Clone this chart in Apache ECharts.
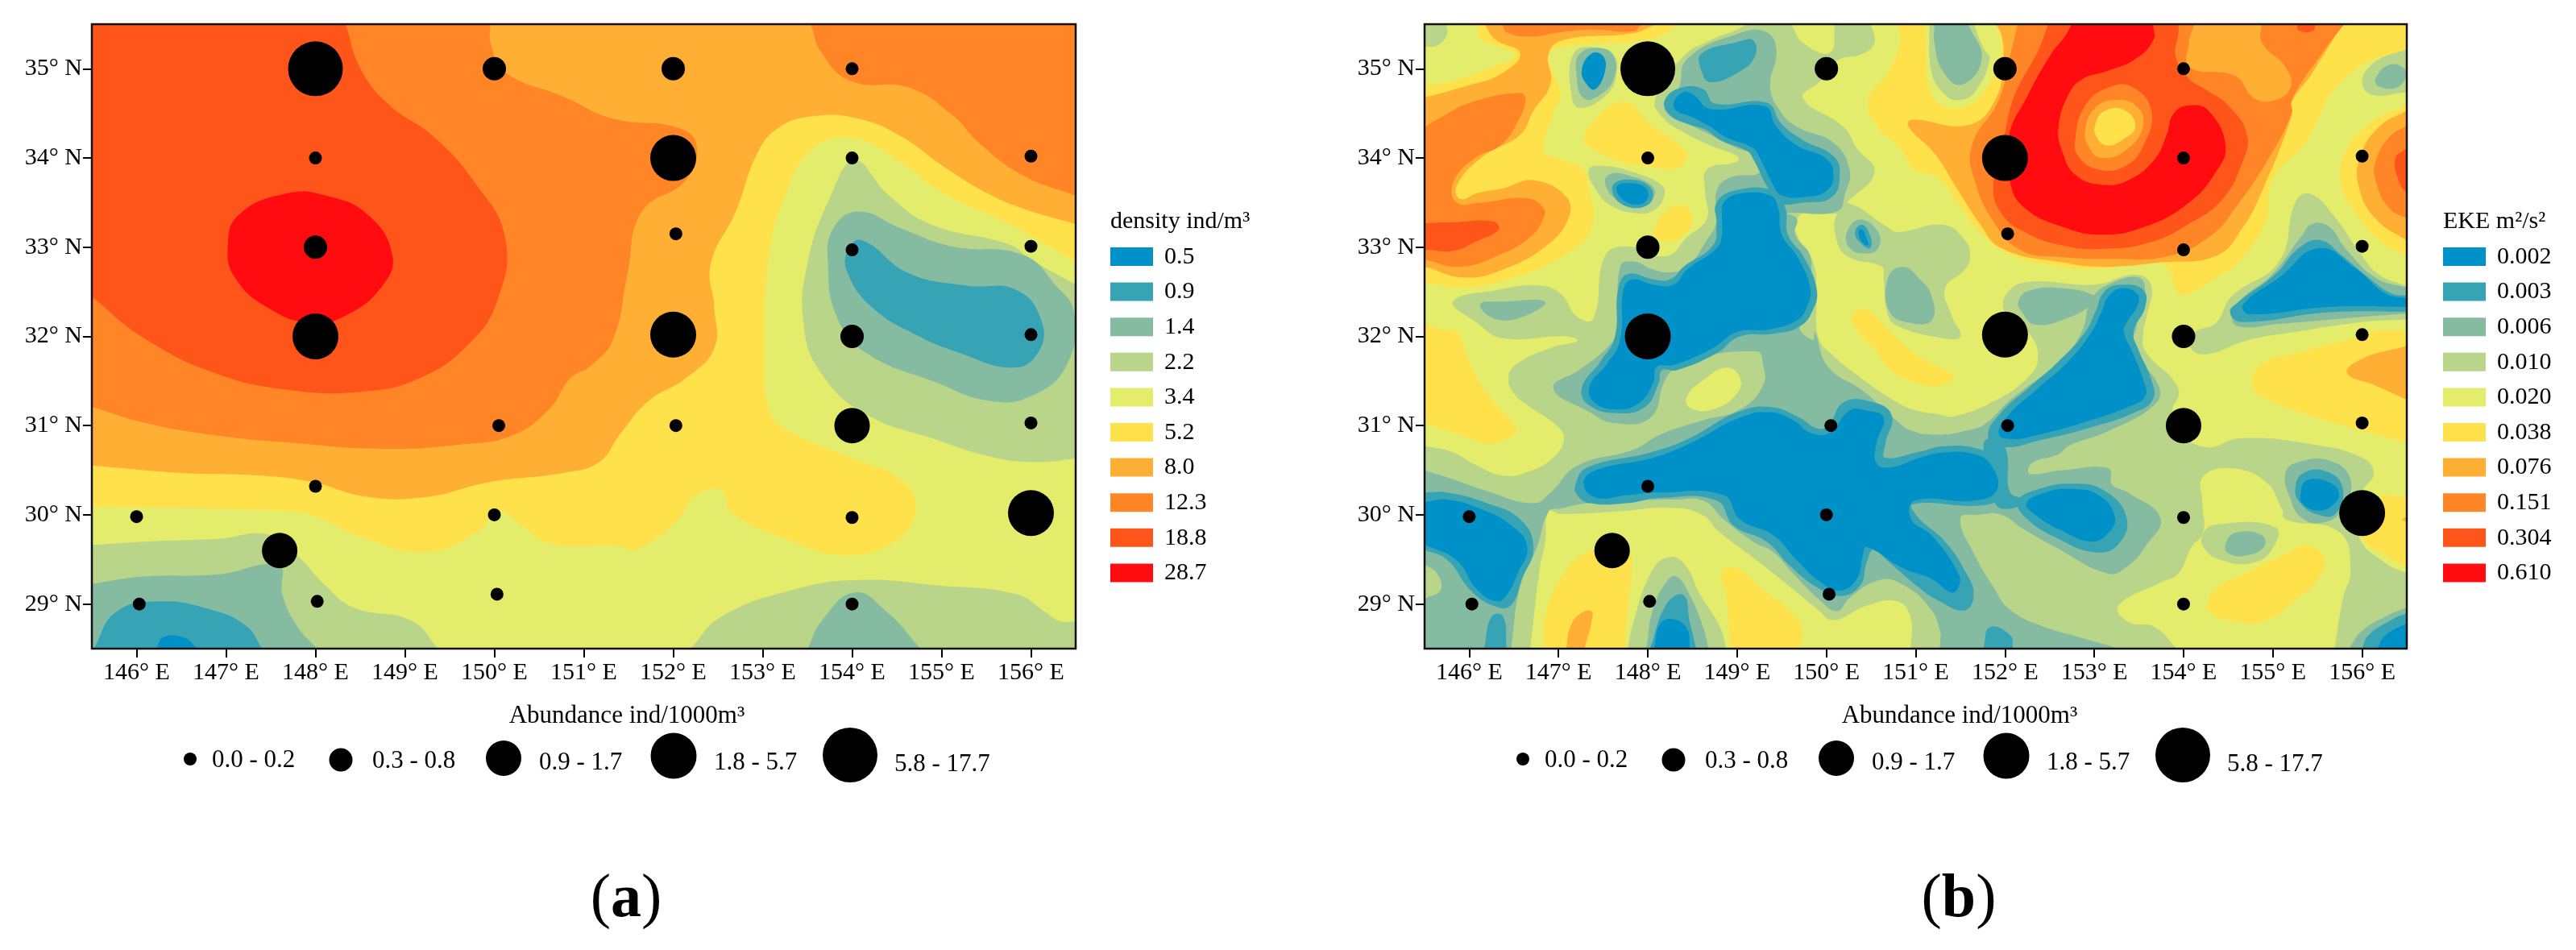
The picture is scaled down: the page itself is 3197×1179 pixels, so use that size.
<!DOCTYPE html>
<html><head><meta charset="utf-8">
<style>html,body{margin:0;padding:0;background:#fff}#c{width:3197px;height:1179px}</style>
<script src="https://cdn.jsdelivr.net/npm/echarts@6/dist/echarts.min.js"></script>
</head><body><div id="c"></div>
<script>
const lonTicks=[146,147,148,149,150,151,152,153,154,155,156];
const latTicks=[29,30,31,32,33,34,35];
const levelColors=['#0191C9','#37A4B6','#85BCA1','#B9D58A','#E3EC6B','#FFE24B','#FFB034','#FF8526','#FF551B','#FF0B10'];
const densityLabels=['0.5','0.9','1.4','2.2','3.4','5.2','8.0','12.3','18.8','28.7'];
const ekeLabels=['0.002','0.003','0.006','0.010','0.020','0.038','0.076','0.151','0.304','0.610'];
const abundanceLabels=['0.0 - 0.2','0.3 - 0.8','0.9 - 1.7','1.8 - 5.7','5.8 - 17.7'];
const abundanceSizes=[16,29,44,57,68];
// station: lon, lat, abundance class
const stations=[[148,35,4],[150,35,1],[152,35,1],[154,35,0],[148,34,0],[152,34,3],[154,34,0],[156,34.02,0],
[148,33,1],[152.03,33.15,0],[154,32.97,0],[156,33.01,0],[148,32,3],[152,32.02,3],[154,32,1],[156,32.02,0],
[150.05,31,0],[152.03,31,0],[154,31,2],[156,31.03,0],[148,30.32,0],[146,29.98,0],[150,30,0],[154,29.97,0],[156,30.02,3],
[147.6,29.6,2],[146.03,29,0],[148.02,29.03,0],[150.03,29.11,0],[154,29,0]];

// filled contour bands: [band, [lon,lat,lon,lat,...]]
const densityContours=[
[4,[145.3,28.3,156.7,28.3,156.7,35.7,145.3,35.7]],
[5,[145.3,35.7,156.7,35.7,156.7,32.71,156.24,32.99,155.76,33.26,155.03,33.6,154.55,33.95,154.03,34.22,153.58,34.12,153.26,33.6,153.06,32.81,153.02,31.82,153.06,31.23,153.26,30.96,153.99,30.64,154.55,30.39,154.71,30.05,154.47,29.7,153.91,29.55,153.34,29.7,152.66,30.02,152.54,30.27,152.26,30.22,152.01,29.9,151.57,29.6,151.41,29.65,150.61,29.68,150.28,29.9,150.04,30.02,149.8,29.8,149.24,29.58,148.51,29.75,147.95,30,147.47,30.05,145.3,30.1]],
[6,[145.3,30.57,146.5,30.47,147.38,30.44,147.95,30.37,148.59,30.2,149.24,30.2,149.96,30.37,150.77,30.47,151.17,30.59,151.41,30.91,151.73,31.28,152.14,31.53,152.46,31.87,152.46,32.32,152.42,32.81,152.7,33.4,152.94,34.05,153.18,34.34,153.58,34.47,154.07,34.44,154.55,34.24,155.03,33.9,155.52,33.6,155.92,33.43,156.7,33.2,156.7,35.7,145.3,35.7]],
[7,[145.3,31.27,146.1,31.03,146.9,30.89,147.71,30.81,148.75,30.74,149.64,30.79,150.2,30.89,150.61,31.18,150.85,31.53,151.09,31.68,151.33,31.97,151.49,32.71,151.65,33.4,152.14,33.75,152.26,34.15,152.05,34.34,151.33,34.44,150.77,34.69,150.12,34.96,149.96,35.28,149.95,35.7,145.3,35.7]],
[7,[153.46,35.7,153.66,35.18,153.99,34.86,154.63,34.79,155.11,34.49,155.44,34.15,155.92,33.8,156.7,33.5,156.7,35.7]],
[8,[145.3,32.6,146.1,31.97,146.9,31.58,147.71,31.4,148.51,31.38,149.16,31.53,149.72,31.92,150.04,32.42,150.12,33.11,149.8,33.7,149.32,34.24,148.83,34.59,148.51,34.99,148.27,35.7,145.3,35.7]],
[9,[147.02,33.01,147.14,33.36,147.67,33.6,148.11,33.58,148.59,33.36,148.86,32.91,148.75,32.57,148.35,32.24,147.95,32.15,147.47,32.32,147.1,32.66]],
[3,[154.03,33.97,154.39,33.6,154.87,33.26,155.76,33.03,156,32.86,156.7,32.47,156.7,30.65,156.08,30.59,155.6,30.64,154.95,30.84,154.15,31.13,153.66,31.58,153.46,32.12,153.5,32.81,153.75,33.55]],
[2,[154.07,33.4,154.55,33.21,155.11,33.01,155.92,32.91,156.28,32.57,156.48,32.27,156.4,31.68,156,31.33,155.52,31.28,154.95,31.48,154.15,31.82,153.83,32.22,153.73,32.81,153.79,33.21]],
[1,[154.11,33.08,154.63,32.71,155.28,32.57,155.84,32.52,156.12,32.17,156.08,31.82,155.8,31.65,155.19,31.82,154.71,32.02,154.23,32.32,153.95,32.71,153.95,32.96]],
[3,[145.3,29.65,146.1,29.7,146.9,29.73,147.47,29.78,147.79,29.55,148.11,29.21,148.43,28.96,149.08,28.81,149.56,28.3,145.3,28.3]],
[2,[145.3,29.2,146.1,29.31,146.9,29.33,147.59,29.43,147.63,29.11,147.79,28.76,148.19,28.3,145.3,28.3]],
[1,[145.4,28.3,145.77,28.91,146.26,29.03,146.82,28.94,147.22,28.76,147.55,28.3]],
[0,[146.1,28.3,146.3,28.63,146.54,28.62,146.9,28.3]],
[3,[152,28.3,152.54,28.86,153.34,29.16,154.07,29.27,154.95,29.21,155.84,29.11,156.16,28.91,156.32,28.81,156.7,28.8,156.7,28.3]],
[2,[153.4,28.3,153.66,28.81,154.03,29.13,154.39,28.91,154.95,28.3]]
];

// filled contour bands, painted in this order
const ekeContours=[
[4,[145.3,28.3,156.7,28.3,156.7,35.7,145.3,35.7]],
[3,[145.3,35.7,145.73,35.7,145.75,35.38,145.64,35.26,145.3,35.23]],
[5,[146.01,35.7,148.7,35.7,148.06,35.34,147.05,35.25,146.89,35.15,146.93,34.98,147.02,34.71,146.94,34.5,146.84,34.08,147.02,33.99,147.28,33.87,147.34,33.63,147.39,33.32,147.28,33.08,146.94,32.84,146.5,32.66,145.94,32.55,145.3,32.63,145.3,34.76,145.82,34.86,146.2,35,146.51,35.15,146.14,35.33]],
[6,[146.03,35.7,148.6,35.7,147.84,35.4,147.05,35.32,146.89,35.17,146.91,34.83,146.72,34.53,146.57,34.26,146.16,34.02,145.86,33.69,145.9,33.54,146.1,33.61,146.38,33.66,146.72,33.75,147.09,33.56,147.11,33.32,146.87,33.02,146.38,32.75,145.94,32.66,145.3,32.84,145.3,34.62,145.94,34.8,146.35,34.94,146.57,35.17,146.29,35.33]],
[5,[146.27,33.84,146.38,33.9,146.53,33.88,146.46,33.79,146.31,33.78]],
[7,[146.25,35.7,146.42,35.41,146.68,35.36,147.02,35.41,147.39,35.44,147.84,35.42,148.14,35.7]],
[7,[145.3,34.23,145.71,34.47,146.01,34.62,146.57,34.73,146.63,34.65,146.53,34.38,146.35,34.14,146.05,33.99,145.82,33.72,145.86,33.5,146.12,33.5,146.65,33.55,146.83,33.44,146.83,33.32,146.68,33.11,146.31,32.9,145.9,32.78,145.3,32.9]],
[8,[145.3,33.26,145.82,33.28,146.27,33.29,146.33,33.2,146.09,33.07,145.82,32.96,145.3,32.98]],
[5,[147.28,34.23,147.39,34.41,147.65,34.62,147.84,34.59,147.99,34.41,148.36,34.14,148.44,34.02,148.32,33.88,148.06,33.9,147.69,33.96,147.32,34.14]],
[5,[148.06,33.14,148.18,33.38,148.36,33.47,148.47,33.41,148.49,33.26,148.32,33.08,148.14,33.08]],
[5,[145.3,32.2,145.68,32.08,145.86,32.05,146.01,31.69,146.2,31.36,146.51,31,146.51,30.91,146.23,30.8,145.94,30.88,145.3,31.09]],
// north-east warm core
[5,[150.77,35.7,150.83,35.29,150.68,34.95,150.47,34.65,150.57,34.35,150.83,34.11,150.98,33.87,151.25,33.78,151.51,33.44,151.7,33.2,152.04,32.93,152.64,32.78,153.08,32.76,153.76,32.81,153.94,32.48,154.06,32.48,154.36,32.66,154.62,32.84,154.92,33.29,154.99,33.75,155.36,34.17,155.51,34.44,155.66,34.74,156.07,35.08,156.7,35.26,156.7,35.7]],
[4,[151.1,35.7,151.85,35.7,151.96,35.29,151.93,35.05,151.78,34.77,151.59,34.59,151.29,34.59,151.14,34.83,151.12,35.2]],
[3,[151.14,35.7,151.57,35.7,151.76,35.23,151.83,35.11,151.66,34.74,151.48,34.65,151.33,34.71,151.18,34.95]],
[2,[151.21,35.7,151.51,35.7,151.74,35.11,151.51,34.82,151.3,34.98,151.21,35.29]],
[6,[151.8,35.7,151.96,35.38,151.98,35.11,151.89,34.65,151.59,34.37,150.95,34.43,150.92,34.35,151.21,34.05,151.48,33.63,151.7,33.29,151.96,32.99,152.64,32.83,153.12,32.78,153.76,32.83,154.36,32.9,154.65,33.2,154.88,33.63,155.21,34.47,155.21,34.62,155.44,34.95,155.9,35.7]],
[7,[152.19,35.7,152.07,35.2,151.93,34.65,151.63,34.14,151.66,33.75,151.89,33.26,152.19,32.96,152.64,32.89,153.16,32.87,153.83,32.9,154.32,33.14,154.58,33.44,154.95,33.99,155.21,34.5,155.21,34.65,155.55,35.17,155.95,35.7]],
[6,[154.17,35.7,154.06,35.29,154.07,35.02,154.58,34.92,154.79,34.67,155.03,34.65,155.2,34.8,155.14,35.02,154.88,35.29,154.86,35.7]],
[8,[155.21,35.7,155.29,35.43,155.44,35.42,155.59,35.7]],
[8,[152.56,35.7,152.37,35.2,152.11,34.71,152,34.29,151.87,33.69,151.96,33.38,152.22,33.17,152.64,33.02,153.05,32.98,153.61,33.05,154.06,33.26,154.43,33.53,154.65,33.93,154.71,34.26,154.5,34.59,154.24,34.77,154.06,34.89,153.91,35.14,153.94,35.38,153.96,35.7]],
[9,[152.86,35.7,153.66,35.7,153.66,35.32,153.46,35.11,153.16,34.98,152.86,34.88,152.71,34.71,152.6,34.35,152.64,34.08,152.79,33.81,153.08,33.7,153.38,33.75,153.68,33.99,153.81,34.26,153.89,34.5,154.07,34.59,154.28,34.53,154.47,34.14,154.36,33.84,154.06,33.5,153.57,33.23,153.08,33.14,152.64,33.23,152.22,33.44,152.06,33.72,152.04,34.23,152.26,34.71,152.52,35.17,152.67,35.36]],
[7,[152.79,34.23,152.9,34.59,153.16,34.79,153.42,34.8,153.64,34.53,153.55,34.14,153.35,33.91,153.05,33.87,152.82,34.02]],
[6,[152.9,34.32,153.01,34.56,153.23,34.65,153.46,34.59,153.55,34.38,153.38,34.11,153.08,34,152.93,34.14]],
[5,[153.01,34.37,153.12,34.53,153.35,34.53,153.46,34.35,153.31,34.2,153.14,34.14,153.03,34.23]],
[3,[156,34.86,156.15,35.08,156.7,35.3,156.7,34.75,156.11,34.71]],
[2,[156.15,34.89,156.32,35.05,156.49,34.97,156.41,34.8,156.19,34.8]],
[5,[156.7,34.72,156.04,34.35,155.81,34.05,155.76,33.75,155.89,33.44,156.22,33.05,156.7,32.8]],
[6,[156.7,34.65,156.19,34.35,155.98,34.02,155.96,33.69,156.15,33.32,156.7,32.93]],
[7,[156.7,34.5,156.3,34.23,156.15,33.96,156.15,33.75,156.3,33.44,156.7,33.2]],
[8,[156.7,34.3,156.37,33.99,156.43,33.69,156.7,33.4]],
[5,[154.77,31.45,154.88,31.69,155.25,31.81,155.93,31.99,156.07,32.05,156.7,32.08,156.7,30.76,156,30.94,155.4,31.12,154.99,31.27]],
[6,[155.83,31.59,156,31.75,156.7,31.95,156.7,31.2,156.15,31.45]],
// main low-EKE network
[3,[148.08,34.65,148.4,35.14,148.7,35.32,149,35.44,149.48,35.7,149.74,35.29,150.04,35.18,150.13,35.7,150.45,35.7,150.54,35.3,150.41,35.17,150.12,35.09,149.93,34.86,149.74,34.67,150.19,34.35,150.34,34.11,150.54,33.84,150.23,33.5,150.12,33.38,149.85,33.41,149.67,33.32,149.67,33.14,149.85,32.84,149.89,32.54,149.91,31.99,150.08,31.78,150.3,31.6,150.68,31.33,150.97,31.18,151.3,31.12,151.4,31.1,151.81,31.24,152.26,31.54,152.37,31.78,152.26,32.05,152,32.27,152.02,32.48,152.26,32.61,153.01,32.58,153.46,32.69,153.64,32.57,153.59,32.24,153.55,32.05,153.57,31.84,153.94,31.42,153.87,31.15,153.91,30.97,154.24,30.76,154.65,30.86,155.44,30.79,156,30.64,156.13,30.46,156,30.25,155.96,29.77,156.26,29.46,156.7,29.25,156.7,28.3,145.3,28.3,145.3,30.82,145.82,30.7,146.09,30.55,146.38,30.44,146.68,30.49,146.94,30.64,147.06,30.85,146.98,31,146.68,31.21,146.5,31.36,146.44,31.54,146.53,31.69,146.91,31.87,147.21,31.95,147.09,32,146.38,31.98,146.09,32.15,145.82,32.39,146.31,32.52,146.79,32.57,147.02,32.48,147.21,32.22,147.39,32.2,147.52,32.9,147.76,33.01,148.21,32.9,148.44,33.11,148.66,33.32,148.64,33.63,148.66,33.87,149,33.96,149,34.02,148.7,34.14,148.4,34.29,148.18,34.44]],
[3,[150.12,33.38,150.23,33.5,150.68,33.23,150.79,33.17,151.31,33.25,151.55,33.08,151.61,32.9,151.55,32.75,151.33,32.54,151.4,32.24,151.5,32,151.31,31.98,150.81,32.11,150.69,32.24,150.64,32.66,150.62,32.78,150.23,32.9,150.1,33.14]],
[3,[154.36,32.15,154.54,32.45,155.07,32.84,155.25,33.5,155.41,33.6,155.66,33.38,156,32.9,156.19,32.69,156.7,32.48,156.7,32.2,156,32.16,155.25,32.05,154.73,31.96,154.24,31.8,154.07,31.89,154.13,32.05]],
[3,[147.34,33.87,147.5,33.91,147.84,33.84,148.16,33.69,148.18,33.56,148.06,33.41,147.88,33.38,147.58,33.47,147.41,33.66]],
[3,[147.15,34.68,147.17,35.17,147.43,35.24,147.62,35.15,147.65,34.95,147.54,34.71,147.24,34.56]],
// holes inside the network
[4,[146.89,30.04,147.02,30.01,147.69,30.04,148.21,30.08,148.59,30.01,148.81,29.8,149.18,29.52,149.56,29.22,149.89,28.95,150.08,28.82,150.45,28.98,150.79,29.03,150.94,28.86,150.95,28.3,146.66,28.3,146.79,29.4,146.85,29.7]],
[5,[146.83,28.3,146.85,28.86,147.06,29.34,147.39,29.61,147.76,29.64,147.82,29.4,147.78,29.04,147.73,28.3]],
[6,[147.05,28.3,147.13,28.74,147.24,28.89,147.37,28.92,147.37,28.8,147.24,28.3]],
[5,[148.83,29.37,149,29.4,149.29,29.16,149.56,28.95,149.72,28.77,149.72,28.3,148.94,28.3,148.88,29.1]],
[3,[147.73,28.3,147.84,28.8,148.03,29.34,148.21,29.52,148.4,29.46,148.59,29.1,148.81,28.74,148.94,28.3]],
[4,[154.22,30.43,154.54,30.52,154.92,30.37,155.1,30.07,155.14,29.95,155.74,29.81,155.87,29.4,155.78,29.04,155.66,28.3,154.13,28.3,153.68,28.74,153.38,28.8,153.27,28.98,153.76,29.25,153.94,29.34,154.09,29.64,154.22,29.8,154.21,30.13]],
[5,[154.26,28.98,154.39,29.19,154.69,29.34,155.18,29.58,155.36,29.66,155.55,29.55,155.55,29.34,155.25,29.04,154.88,28.8,154.5,28.82,154.32,28.89]],
[3,[154.21,29.77,154.36,29.89,155.03,29.86,154.99,29.61,154.77,29.46,154.43,29.49,154.24,29.61]],
[5,[156.19,30.19,156.7,30.2,156.7,29.3,156.26,29.55,156,29.77]],
[6,[156.45,29.95,156.7,30.1,156.7,29.8]],
// band 1.4-equivalent network
[2,[148.19,34.59,148.34,34.77,148.44,35.11,149,35.39,149.33,35.41,149.44,35.2,149.37,34.8,149.48,34.53,149.67,34.35,150.08,34.17,150.26,33.87,150.21,33.6,150.12,33.4,149.56,33.38,149.67,33.32,149.65,33.14,149.82,32.9,149.82,32.54,149.89,32.39,149.7,32.11,149.85,31.96,149.87,32.05,150.02,31.66,150.41,31.39,150.75,31.09,150.96,30.94,151.3,30.9,151.55,30.94,151.78,31.02,152.04,31.27,152.64,31.75,152.86,32.05,152.97,32.42,153.2,32.6,153.5,32.66,153.57,32.51,153.49,32.24,153.46,32.05,153.38,31.9,153.72,31.45,153.68,31.24,153.16,30.94,152.71,30.77,152.6,30.68,152.3,30.58,152.28,30.46,152.64,30.5,153.16,30.52,153.2,30.34,153.38,30.25,153.74,29.96,153.57,29.64,153.38,29.43,153.16,29.34,152.56,29.64,152.19,29.85,151.96,30,151.7,30,151.5,29.96,151.66,29.55,151.89,29.16,152.04,28.95,152.37,28.77,152.86,28.62,153.46,28.45,153.8,28.3,151.27,28.3,151.27,28.71,151.14,28.98,150.85,29.22,150.6,29.27,150.26,29.07,150.12,28.92,149.93,29.04,149.63,29.34,149.41,29.58,149.18,29.7,148.85,29.95,148.62,30.16,148.29,30.17,147.84,30.16,147.32,30.13,147.02,30.07,146.89,30.04,146.76,29.64,146.57,29.19,146.44,28.3,145.3,28.3,145.3,30.56,145.82,30.4,146.16,30.28,146.72,30.13,146.91,30.25,147.21,30.55,147.84,30.73,148.14,30.9,148.62,31.06,149.03,31.18,149.29,31.45,149.29,31.69,149.22,31.83,148.44,31.72,148.21,31.54,148.03,31.09,147.62,31.03,147.35,31.15,146.94,31.42,147.24,31.63,147.54,31.87,147.65,32.05,147.69,32.78,147.84,32.84,148.06,32.75,148.25,32.72,148.44,32.78,148.66,33.08,148.77,33.29,148.77,33.63,148.92,33.78,149.26,33.84,149.22,34.02,149,34.11,148.7,34.26,148.51,34.35,148.25,34.47]],
[4,[148.44,31.33,148.62,31.51,148.88,31.65,149.03,31.54,149,31.36,148.73,31.18,148.47,31.2]],
[3,[145.3,29.6,145.64,29.34,145.68,29.16,145.3,28.95]],
[4,[150.23,32.3,150.39,32.39,150.62,32.24,150.99,31.84,151.48,31.56,151.33,31.42,151.14,31.41,150.69,31.57,150.57,31.81,150.27,32.05]],
[5,[150.3,32.25,150.45,32.3,150.66,32.1,151,31.8,151.42,31.55,151.3,31.46,151.12,31.45,150.72,31.62,150.55,31.85,150.33,32.08]],
[2,[150.69,32.66,150.86,32.78,151.03,32.66,151.18,32.45,151.18,32.18,150.95,32.15,150.71,32.27]],
[2,[146.12,32.36,146.38,32.39,146.85,32.39,146.65,32.24,146.31,32.19]],
[2,[147.52,33.72,147.58,33.82,147.76,33.81,148.06,33.67,148.03,33.5,147.84,33.46,147.65,33.53]],
[2,[147.2,34.95,147.24,35.17,147.47,35.23,147.62,35.14,147.62,34.89,147.47,34.71,147.28,34.67]],
[2,[150.23,33.17,150.38,33.31,150.58,33.17,150.58,32.99,150.45,32.93,150.26,32.99]],
[2,[147.95,28.3,148.06,28.95,148.21,29.25,148.32,29.31,148.47,29.1,148.62,28.74,148.73,28.3]],
[2,[154.47,29.67,154.58,29.8,154.88,29.77,154.9,29.64,154.69,29.54,154.5,29.57]],
[2,[152.15,32.39,152.26,32.51,152.64,32.54,153.01,32.45,152.97,32.36,152.71,32.21,152.34,32.13,152.19,32.27]],
[2,[154.54,32.24,154.65,32.42,154.99,32.69,155.31,33.11,155.44,33.26,155.63,33.23,155.81,32.99,156.15,32.66,156.7,32.48,156.7,32.27,156,32.22,155.07,32.14,154.62,32.11]],
[2,[155.14,30.46,155.25,30.58,155.63,30.61,155.87,30.4,155.78,30.07,155.59,29.92,155.33,29.96,155.18,30.22]],
[2,[155.7,28.3,156,28.7,156.26,28.86,156.7,29.05,156.7,28.3]],
// band 0.9-equivalent
[1,[148.19,34.65,148.38,34.79,148.62,34.77,148.75,34.61,149.33,34.62,149.5,34.38,149.74,34.2,150.08,34.02,150.15,33.81,150.06,33.56,149.74,33.5,149.46,33.5,149.33,33.69,149.18,33.99,149.11,34.08,148.81,34.2,148.66,34.31,148.4,34.4,148.23,34.5]],
[1,[148.6,35.17,149,35.3,149.18,35.32,149.2,35.14,149.03,34.97,148.7,34.85,148.6,34.98]],
[1,[148.77,33.5,148.99,33.64,149.41,33.63,149.54,33.44,149.57,33.14,149.74,32.9,149.89,32.54,149.85,32.3,149.7,32.11,149.41,32.03,149.03,32,148.77,31.81,148.32,31.62,148.16,31.62,148.12,31.47,147.97,31.21,147.65,31.14,147.34,31.23,147.26,31.42,147.47,31.72,147.63,31.99,147.67,32.54,147.78,32.7,148.06,32.64,148.25,32.64,148.4,32.78,148.73,33.02,148.77,33.26]],
[1,[147.19,30.34,147.32,30.53,148.03,30.7,148.47,30.86,149,31.15,149.37,31.21,149.7,31.09,149.89,30.97,150.02,31,150.19,31.26,150.49,31.27,150.73,31.12,150.66,30.79,150.66,30.64,151.05,30.71,151.31,30.77,151.7,30.74,151.89,30.61,151.98,30.25,151.78,30.11,150.97,30.12,151.03,29.97,151.33,29.7,151.57,29.34,151.65,29.1,151.55,28.93,151.25,29.04,151.03,29.19,150.68,29.49,150.53,29.61,150.45,29.46,150.38,29.21,150.15,29.09,149.89,29.19,149.59,29.43,149.33,29.7,148.96,29.88,148.77,30.16,148.14,30.19,147.76,30.13,147.35,30.13,147.21,30.22]],
[1,[151.76,30.79,151.91,30.86,152.02,30.7,152.06,30.25,152.24,30.17,152.07,30.07,151.89,30.13]],
[1,[152.15,30.16,152.38,30.29,152.75,30.35,153.1,30.28,153.36,29.98,153.27,29.67,153.01,29.58,152.6,29.73,152.22,29.98]],
[1,[153.01,32.27,153.12,32.51,153.31,32.58,153.55,32.52,153.57,32.33,153.44,32.05,153.5,31.84,153.63,31.54,153.66,31.3,153.46,31.15,152.93,30.97,152.37,30.83,152,30.76,151.81,30.88,151.96,31.15,152.26,31.42,152.6,31.72,152.9,32.05]],
[1,[154.52,32.27,154.62,32.39,155.03,32.7,155.29,32.99,155.53,33.08,155.78,32.9,156.07,32.66,156.33,32.48,156.7,32.43,156.7,32.28,155.63,32.27,154.65,32.16]],
[1,[155.25,30.28,155.33,30.46,155.59,30.49,155.78,30.31,155.7,30.01,155.48,30.01,155.31,30.13]],
[1,[147.6,33.67,147.76,33.76,148.03,33.67,148.01,33.48,147.73,33.47]],
[1,[150.32,33.17,150.4,33.25,150.49,33.13,150.49,32.99,150.38,33.05]],
[1,[147.95,28.3,148.21,29,148.4,29.1,148.47,28.8,148.59,28.3]],
[1,[151.7,28.3,151.83,28.74,152.06,28.65,152.13,28.3]],
[1,[145.3,30.25,145.75,30.25,146.2,30.13,146.57,29.95,146.72,29.64,146.59,29.28,146.46,28.98,146.27,28.98,146.01,29.16,145.76,29.49,145.3,29.7]],
[1,[146.25,28.86,146.38,28.86,146.44,28.3,146.12,28.3]],
[1,[155.9,28.3,156.07,28.65,156.34,28.83,156.7,28.98,156.7,28.3]],
// lowest band
[0,[148.29,34.62,148.4,34.74,148.51,34.71,148.7,34.55,149.31,34.58,149.44,34.35,149.67,34.14,150,33.99,150.08,33.81,150,33.63,149.74,33.56,149.5,33.58,149.41,33.69,149.26,33.99,149.18,34.11,148.88,34.23,148.7,34.35,148.47,34.47,148.32,34.53]],
[0,[148.85,33.5,149.03,33.6,149.37,33.58,149.46,33.44,149.5,33.14,149.67,32.9,149.82,32.54,149.78,32.33,149.67,32.18,149.37,32.08,149,32.05,148.73,31.87,148.29,31.68,148.1,31.66,148.06,31.48,147.91,31.26,147.65,31.18,147.39,31.27,147.35,31.45,147.54,31.69,147.69,31.96,147.73,32.54,147.84,32.64,148.06,32.58,148.29,32.58,148.44,32.75,148.77,32.99,148.83,33.14,148.83,33.35]],
[0,[147.28,30.34,147.39,30.49,148.06,30.64,148.51,30.82,149.03,31.09,149.37,31.15,149.63,31.06,149.82,30.92,150.04,30.92,150.26,31.17,150.45,31.17,150.64,31.09,150.56,30.79,150.56,30.58,150.71,30.53,151.05,30.64,151.31,30.7,151.66,30.68,151.85,30.55,151.91,30.28,151.66,30.16,150.99,30.16,150.95,29.95,151.18,29.77,151.48,29.34,151.48,29.19,151.4,29.13,151.18,29.28,150.86,29.4,150.45,29.64,150.41,29.55,150.34,29.28,150.15,29.15,149.93,29.25,149.67,29.49,149.41,29.77,149.03,29.95,148.85,30.22,148.14,30.25,147.76,30.22,147.43,30.19]],
[0,[152.24,30.13,152.45,30.25,152.75,30.29,153.05,30.22,153.23,29.98,153.16,29.8,152.97,29.7,152.64,29.82,152.34,30]],
[0,[153.08,32.27,153.16,32.45,153.31,32.54,153.48,32.48,153.49,32.36,153.36,32.15,153.33,32.05,153.42,31.84,153.55,31.51,153.57,31.33,153.38,31.21,152.86,31.03,152.34,30.89,152.07,30.85,151.93,30.91,152.04,31.12,152.37,31.42,152.71,31.72,152.97,32.05]],
[0,[154.67,32.36,155.07,32.66,155.51,32.99,155.93,32.76,156.26,32.48,156.7,32.38,156.7,32.33,155.63,32.33,154.73,32.25]],
[0,[155.31,30.22,155.37,30.38,155.59,30.38,155.74,30.25,155.66,30.1,155.48,30.05,155.33,30.13]],
[0,[147.65,33.67,147.78,33.72,147.99,33.65,147.96,33.5,147.75,33.51]],
[0,[147.26,34.98,147.37,35.17,147.5,35.14,147.52,34.97,147.41,34.77,147.32,34.82]],
[0,[150.36,33.17,150.4,33.2,150.45,33.1,150.47,33.02,150.4,33.06]],
[0,[148.02,28.3,148.14,28.78,148.29,28.83,148.44,28.72,148.5,28.3]],
[0,[145.3,30.12,145.75,30.17,146.12,30.07,146.46,29.89,146.65,29.64,146.54,29.34,146.42,29.1,146.31,29.03,146.09,29.16,145.86,29.49,145.3,29.77]],
[0,[156.05,28.3,156.26,28.65,156.7,28.9,156.7,28.3]]
];

const FONT='"Liberation Serif","Times New Roman",serif';
const panels=[
 {left:114,top:30,width:1221,height:775,contours:densityContours,shift:0,title:'density ind/m³',labels:densityLabels,tag:'a'},
 {left:1768,top:30,width:1219,height:775,contours:ekeContours,shift:1654,title:'EKE m²/s²',labels:ekeLabels,tag:'b'}
];
const legendX=[236,423,625,836,1055], legendDotY=[942,943,941,938,937];
const legendTextX=[263,462,669,886,1110], legendTextY=[944,945,947,947,949];

// Keeps the curve true where an outline leaves the plotted window: adds vertices on the outline's
// own straight run at the window edge so the off-window corners cannot pull the visible curve.
const LON0=145.5,LON1=156.5,LAT0=28.5,LAT1=35.5;
const inWin=p=>p[0]>=LON0&&p[0]<=LON1&&p[1]>=LAT0&&p[1]<=LAT1;
function refine(flat){
 const pts=[];for(let i=0;i<flat.length;i+=2)pts.push([flat[i],flat[i+1]]);
 const out=[];
 pts.forEach((a,i)=>{
  const b=pts[(i+1)%pts.length];out.push(a);
  const ia=inWin(a),ib=inWin(b);if(ia===ib)return;
  const n=ia?a:b,o=ia?b:a,dx=o[0]-n[0],dy=o[1]-n[1];
  let t=1;
  if(dx>0)t=Math.min(t,(LON1-n[0])/dx);if(dx<0)t=Math.min(t,(LON0-n[0])/dx);
  if(dy>0)t=Math.min(t,(LAT1-n[1])/dy);if(dy<0)t=Math.min(t,(LAT0-n[1])/dy);
  const len=Math.hypot(dx,dy),t2=Math.min(t+0.08/len,0.97);
  const P=[n[0]+dx*t,n[1]+dy*t],Q=[n[0]+dx*t2,n[1]+dy*t2];
  if(ia)out.push(P,Q);else out.push(Q,P);
 });
 return out;
}

const grids=[],xAxes=[],yAxes=[],series=[],graphics=[];
panels.forEach((p,i)=>{
 grids.push({left:p.left,top:p.top,width:p.width,height:p.height,show:false});
 const line={show:false};
 const tick={show:true,length:11,lineStyle:{color:'#000',width:2}};
 xAxes.push({gridIndex:i,type:'value',min:145.5,max:156.5,axisLine:line,splitLine:{show:false},
  axisTick:Object.assign({customValues:lonTicks},tick),
  axisLabel:{customValues:lonTicks,formatter:v=>v+'° E',fontFamily:FONT,fontSize:30,color:'#000',margin:15,hideOverlap:false}});
 yAxes.push({gridIndex:i,type:'value',min:28.5,max:35.5,axisLine:line,splitLine:{show:false},
  axisTick:Object.assign({customValues:latTicks},tick),
  axisLabel:{customValues:latTicks,formatter:v=>v+'° N',fontFamily:FONT,fontSize:30,color:'#000',margin:12,hideOverlap:false}});
 const contours=p.contours;
 series.push({type:'custom',coordinateSystem:'cartesian2d',xAxisIndex:i,yAxisIndex:i,clip:true,silent:true,z:2,
  data:contours.map((c,k)=>[c[1][0],c[1][1],k]),
  renderItem:(params,api)=>{
   const c=contours[params.dataIndex];
   const pts=refine(c[1]).map(q=>api.coord(q));
   return {type:'polygon',shape:{points:pts,smooth:0.45},style:{fill:levelColors[c[0]],stroke:null}};
  }});
 series.push({type:'scatter',xAxisIndex:i,yAxisIndex:i,z:5,silent:true,
  data:stations.map(s=>[s[0],s[1],s[2]]),
  symbolSize:d=>abundanceSizes[d[2]],itemStyle:{color:'#000',opacity:1}});
 graphics.push({type:'rect',z:50,shape:{x:p.left,y:p.top,width:p.width,height:p.height},style:{fill:null,stroke:'#111',lineWidth:2.5}});
 graphics.push({type:'text',z:50,x:1378+p.shift,y:275,style:{text:p.title,font:'30px '+FONT,fill:'#000',verticalAlign:'middle',align:'left'}});
 p.labels.forEach((t,k)=>{
  const y=307+k*43.6;
  graphics.push({type:'rect',z:50,shape:{x:1378+p.shift,y:y,width:53,height:23},style:{fill:levelColors[k]}});
  graphics.push({type:'text',z:50,x:1445+p.shift,y:y+12,style:{text:t,font:'30px '+FONT,fill:'#000',verticalAlign:'middle',align:'left'}});
 });
 graphics.push({type:'text',z:50,x:778+p.shift,y:889,style:{text:'Abundance ind/1000m³',font:'31px '+FONT,fill:'#000',verticalAlign:'middle',align:'center'}});
 abundanceLabels.forEach((t,k)=>{
  graphics.push({type:'circle',z:50,shape:{cx:legendX[k]+p.shift,cy:legendDotY[k],r:abundanceSizes[k]/2},style:{fill:'#000'}});
  graphics.push({type:'text',z:50,x:legendTextX[k]+p.shift,y:legendTextY[k],style:{text:t,font:'31px '+FONT,fill:'#000',verticalAlign:'middle',align:'left'}});
 });
 graphics.push({type:'text',z:50,x:777+p.shift,y:1117,style:{text:'{p|(}{t|'+p.tag+'}{p|)}',verticalAlign:'middle',align:'center',
   rich:{p:{font:'76px '+FONT,fill:'#000'},t:{font:'bold 76px '+FONT,fill:'#000'}}}});
});
const chart=echarts.init(document.getElementById('c'),null,{renderer:'canvas'});
chart.setOption({animation:false,backgroundColor:'#fff',grid:grids,xAxis:xAxes,yAxis:yAxes,series:series,graphic:{elements:graphics}});
</script></body></html>
